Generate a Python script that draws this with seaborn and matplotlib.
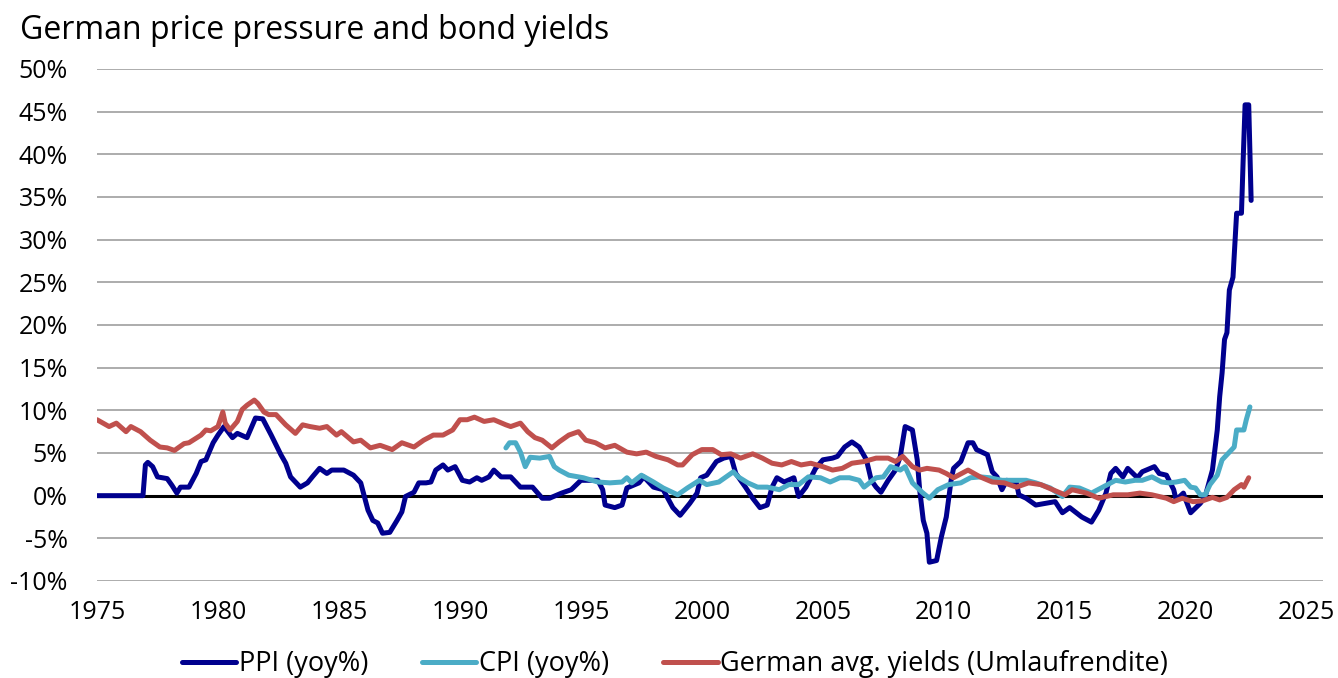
import pandas as pd
import numpy as np
import matplotlib
matplotlib.use('Agg')
import matplotlib.pyplot as plt
import matplotlib.ticker as ticker
import seaborn as sns

# PPI (yoy%), decimal years
ppi_year = [1975.0, 1976.9, 1977.0, 1977.1, 1977.3, 1977.5, 1977.9, 1978.1, 1978.3, 1978.45,
            1978.8, 1979.1, 1979.3, 1979.5, 1979.8, 1980.0, 1980.25, 1980.6, 1980.8, 1981.2,
            1981.55, 1981.85, 1982.2, 1982.6, 1982.8, 1983.0, 1983.4, 1983.7, 1983.9, 1984.2,
            1984.5, 1984.7, 1985.2, 1985.6, 1985.9, 1986.2, 1986.4, 1986.6, 1986.8, 1987.1,
            1987.4, 1987.6, 1987.75, 1988.1, 1988.3, 1988.6, 1988.8, 1989.0, 1989.3, 1989.5,
            1989.8, 1990.1, 1990.4, 1990.7, 1990.9, 1991.2, 1991.4, 1991.7, 1992.1, 1992.5,
            1993.0, 1993.4, 1993.7, 1994.2, 1994.6, 1995.0, 1995.7, 1995.9, 1996.0, 1996.4,
            1996.7, 1996.9, 1997.4, 1997.6, 1998.0, 1998.4, 1998.8, 1999.1, 1999.5, 1999.8,
            1999.95, 2000.2, 2000.6, 2000.9, 2001.2, 2001.4, 2001.8, 2002.1, 2002.4, 2002.7,
            2002.9, 2003.1, 2003.4, 2003.8, 2004.0, 2004.3, 2004.7, 2005.0, 2005.4, 2005.6,
            2005.9, 2006.2, 2006.5, 2006.8, 2007.0, 2007.2, 2007.4, 2007.7, 2008.0, 2008.2,
            2008.4, 2008.7, 2008.9, 2009.0, 2009.15, 2009.3, 2009.4, 2009.7, 2009.9, 2010.1,
            2010.3, 2010.4, 2010.7, 2011.0, 2011.2, 2011.35, 2011.8, 2012.0, 2012.2, 2012.4,
            2012.6, 2013.0, 2013.1, 2013.4, 2013.8, 2014.2, 2014.6, 2014.9, 2015.2, 2015.7,
            2016.1, 2016.4, 2016.7, 2016.9, 2017.1, 2017.4, 2017.6, 2018.0, 2018.2, 2018.7,
            2018.9, 2019.2, 2019.5, 2019.6, 2019.9, 2020.0, 2020.2, 2020.6, 2020.8, 2021.1,
            2021.3, 2021.4, 2021.5, 2021.6, 2021.7, 2021.8, 2021.95, 2022.1, 2022.3, 2022.37,
            2022.45, 2022.6, 2022.7]
ppi_val = [0.0, 0.0, 3.6, 3.9, 3.4, 2.2, 2.0, 1.2, 0.3, 1.0,
           1.0, 2.6, 4.0, 4.2, 6.2, 7.1, 8.1, 6.8, 7.3, 6.8,
           9.1, 9.0, 7.1, 4.8, 3.8, 2.2, 1.0, 1.5, 2.2, 3.2,
           2.6, 3.0, 3.0, 2.4, 1.5, -1.7, -2.9, -3.2, -4.4, -4.3,
           -2.9, -1.9, -0.1, 0.4, 1.5, 1.5, 1.6, 3.0, 3.6, 3.0,
           3.4, 1.8, 1.6, 2.1, 1.8, 2.2, 3.0, 2.2, 2.2, 1.0,
           1.0, -0.3, -0.3, 0.3, 0.7, 1.8, 1.8, 0.7, -1.1, -1.4,
           -1.1, 0.9, 1.5, 2.2, 1.0, 0.7, -1.4, -2.3, -0.9, 0.3,
           2.1, 2.4, 4.0, 4.4, 4.6, 2.6, 1.0, -0.3, -1.4, -1.1,
           1.0, 2.1, 1.6, 2.1, -0.1, 1.0, 3.2, 4.2, 4.4, 4.6,
           5.7, 6.3, 5.7, 4.2, 1.8, 1.0, 0.4, 1.8, 3.0, 4.6,
           8.1, 7.7, 4.2, 0.7, -2.9, -4.4, -7.8, -7.6, -4.8, -2.5,
           1.8, 3.2, 4.0, 6.2, 6.2, 5.4, 4.8, 2.8, 2.2, 0.7,
           1.8, 1.5, 0.1, -0.3, -1.1, -0.9, -0.7, -2.0, -1.4, -2.5,
           -3.1, -1.7, 0.3, 2.6, 3.2, 2.2, 3.2, 2.1, 2.8, 3.4,
           2.6, 2.4, 0.7, -0.5, 0.3, -0.5, -2.0, -0.9, -0.1, 3.0,
           7.7, 11.6, 14.4, 18.3, 19.1, 24.1, 25.6, 33.1, 33.1, 39.3,
           45.8, 45.8, 34.6]

# CPI (yoy%)
cpi_year = [1991.9, 1992.05, 1992.3, 1992.5, 1992.7, 1992.9, 1993.3, 1993.7, 1993.9, 1994.1,
            1994.5, 1995.1, 1995.7, 1996.2, 1996.7, 1996.9, 1997.1, 1997.5, 1998.0, 1998.4,
            1999.0, 1999.4, 1999.9, 2000.2, 2000.7, 2001.3, 2001.5, 2001.9, 2002.3, 2002.7,
            2003.2, 2003.6, 2004.0, 2004.4, 2004.9, 2005.3, 2005.7, 2006.1, 2006.5, 2006.7,
            2007.2, 2007.5, 2007.8, 2008.2, 2008.4, 2008.7, 2009.1, 2009.4, 2009.75, 2010.2,
            2010.7, 2011.1, 2011.5, 2011.9, 2012.4, 2013.0, 2013.4, 2013.8, 2014.4, 2014.9,
            2015.2, 2015.6, 2016.1, 2016.5, 2016.9, 2017.1, 2017.5, 2017.9, 2018.2, 2018.6,
            2019.0, 2019.3, 2019.6, 2019.95, 2020.2, 2020.4, 2020.6, 2020.8, 2021.0, 2021.3,
            2021.5, 2021.8, 2022.0, 2022.1, 2022.4, 2022.5, 2022.65]
cpi_val = [5.6, 6.2, 6.2, 5.1, 3.4, 4.5, 4.4, 4.6, 3.4, 3.0,
           2.4, 2.1, 1.6, 1.5, 1.6, 2.1, 1.5, 2.4, 1.6, 0.9,
           0.1, 0.9, 1.8, 1.3, 1.6, 2.8, 2.2, 1.5, 1.0, 1.0,
           0.7, 1.3, 1.3, 2.2, 2.1, 1.6, 2.1, 2.1, 1.8, 1.0,
           2.1, 2.2, 3.4, 3.0, 3.4, 1.5, 0.4, -0.3, 0.7, 1.3,
           1.5, 2.1, 2.2, 2.1, 1.8, 1.8, 1.8, 1.5, 0.9, -0.1,
           1.0, 0.9, 0.3, 0.9, 1.5, 1.8, 1.6, 1.8, 1.8, 2.2,
           1.6, 1.5, 1.6, 1.8, 1.0, 0.9, 0.1, 0.1, 1.3, 2.4,
           4.2, 5.1, 5.7, 7.7, 7.7, 8.9, 10.4]

# German avg. yields (Umlaufrendite)
yld_year = [1975.0, 1975.25, 1975.5, 1975.8, 1976.2, 1976.4, 1976.8, 1977.2, 1977.6, 1977.9,
            1978.2, 1978.6, 1978.8, 1979.3, 1979.5, 1979.7, 1980.0, 1980.2, 1980.3, 1980.5,
            1980.8, 1981.0, 1981.2, 1981.5, 1981.65, 1981.9, 1982.1, 1982.4, 1982.8, 1983.2,
            1983.5, 1983.8, 1984.2, 1984.5, 1984.9, 1985.1, 1985.6, 1985.9, 1986.3, 1986.7,
            1987.2, 1987.6, 1988.1, 1988.5, 1988.9, 1989.3, 1989.7, 1990.0, 1990.3, 1990.6,
            1991.0, 1991.4, 1991.9, 1992.1, 1992.5, 1992.8, 1993.1, 1993.4, 1993.8, 1994.1,
            1994.5, 1994.9, 1995.2, 1995.6, 1996.0, 1996.4, 1996.9, 1997.3, 1997.7, 1998.1,
            1998.6, 1999.0, 1999.2, 1999.6, 2000.0, 2000.45, 2000.8, 2001.2, 2001.6, 2002.1,
            2002.5, 2002.9, 2003.3, 2003.7, 2004.1, 2004.5, 2005.0, 2005.4, 2005.8, 2006.2,
            2006.7, 2007.2, 2007.7, 2008.0, 2008.3, 2008.7, 2009.0, 2009.3, 2009.8, 2010.1,
            2010.4, 2011.0, 2011.5, 2012.0, 2012.5, 2013.0, 2013.5, 2014.0, 2014.5, 2015.0,
            2015.3, 2015.9, 2016.4, 2017.0, 2017.6, 2018.1, 2018.6, 2019.2, 2019.5, 2019.85,
            2020.3, 2020.7, 2021.1, 2021.4, 2021.7, 2022.0, 2022.3, 2022.4, 2022.6]
yld_val = [8.9, 8.5, 8.1, 8.5, 7.5, 8.1, 7.5, 6.5, 5.7, 5.6,
           5.3, 6.1, 6.2, 7.1, 7.7, 7.6, 8.1, 9.8, 8.5, 7.7,
           8.7, 10.1, 10.6, 11.2, 10.8, 9.8, 9.5, 9.5, 8.3, 7.3,
           8.3, 8.1, 7.9, 8.1, 7.1, 7.5, 6.3, 6.5, 5.6, 5.9,
           5.4, 6.2, 5.7, 6.5, 7.1, 7.1, 7.7, 8.9, 8.9, 9.2,
           8.7, 8.9, 8.3, 8.1, 8.5, 7.5, 6.8, 6.5, 5.6, 6.3,
           7.1, 7.5, 6.5, 6.2, 5.6, 5.9, 5.1, 4.9, 5.1, 4.6,
           4.2, 3.6, 3.6, 4.8, 5.4, 5.4, 4.8, 4.9, 4.4, 4.9,
           4.4, 3.8, 3.6, 4.0, 3.6, 3.8, 3.4, 3.0, 3.2, 3.8,
           4.0, 4.4, 4.4, 4.0, 4.6, 3.4, 3.0, 3.2, 3.0, 2.6,
           2.1, 3.0, 2.2, 1.6, 1.5, 1.0, 1.5, 1.3, 0.7, 0.1,
           0.7, 0.3, -0.3, 0.1, 0.1, 0.3, 0.1, -0.3, -0.7, -0.3,
           -0.7, -0.6, -0.2, -0.5, -0.2, 0.7, 1.3, 1.0, 2.1]

labels = ['PPI (yoy%)', 'CPI (yoy%)', 'German avg. yields (Umlaufrendite)']
colors = ['#00008E', '#4BACC6', '#C0504D']

# long format for seaborn
df = pd.concat([
    pd.DataFrame({'year': ppi_year, 'value': ppi_val, 'series': labels[0]}),
    pd.DataFrame({'year': cpi_year, 'value': cpi_val, 'series': labels[1]}),
    pd.DataFrame({'year': yld_year, 'value': yld_val, 'series': labels[2]}),
], ignore_index=True)

sns.set_style('white')
plt.rcParams['font.family'] = ['Open Sans', 'DejaVu Sans']
plt.rcParams['text.color'] = 'black'

fig = plt.figure(figsize=(13.38, 6.78), dpi=100)
ax = fig.add_axes([97/1338, 1 - 581/678, (1323 - 97)/1338, (581 - 69)/678])

ax.axhline(0, color='black', lw=2.2, zorder=1.5)
sns.lineplot(data=df, x='year', y='value', hue='series', hue_order=labels,
             palette=dict(zip(labels, colors)), linewidth=3.6, estimator=None,
             sort=False, ax=ax, zorder=2)
for line in ax.lines:
    line.set_solid_joinstyle('round')
    line.set_solid_capstyle('round')

ax.set_xlim(1975, 2025.67)
ax.set_ylim(-10, 50)
ax.set_xticks(range(1975, 2026, 5))
ax.set_yticks(range(-10, 51, 5))
ax.yaxis.set_major_formatter(ticker.FuncFormatter(lambda v, p: f'{v:.0f}%'))
ax.yaxis.grid(True, color='#a6a6a6', lw=1.3)
ax.xaxis.grid(False)
ax.set_axisbelow(True)
for s in ax.spines.values():
    s.set_visible(False)
ax.tick_params(axis='both', length=0, labelsize=18, colors='black')
ax.tick_params(axis='y', pad=21)
ax.tick_params(axis='x', pad=14)
ax.set_xlabel('')
ax.set_ylabel('')

# legend along the bottom
handles, _ = ax.get_legend_handles_labels()
ax.get_legend().remove()
leg = fig.legend(handles, labels, loc='center', bbox_to_anchor=(675/1338, 1 - 664/678),
                 ncol=3, frameon=False, fontsize=19.5, handlelength=2.0, handletextpad=0.1,
                 columnspacing=2.0)
for t in leg.get_texts():
    t.set_color('black')

fig.text(20/1338, 1 - 39/678, 'German price pressure and bond yields', fontsize=23,
         va='baseline', ha='left', color='black')

fig.savefig('out.png', dpi=100)
